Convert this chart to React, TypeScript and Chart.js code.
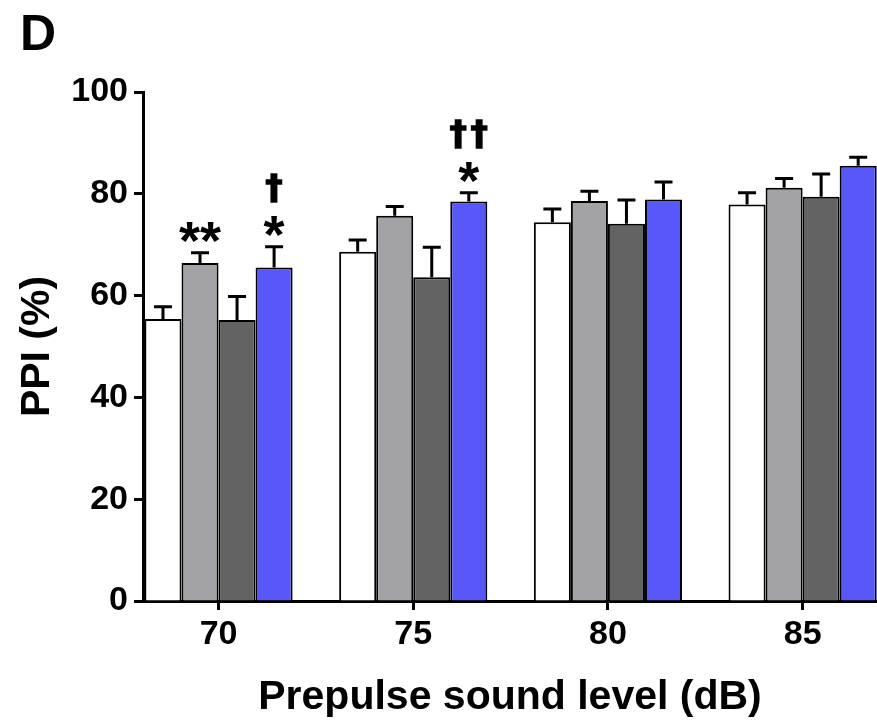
import React, { useEffect, useRef } from 'react';
import { Chart, registerables } from 'chart.js';

Chart.register(...registerables);

// ---- data ----
const levels = [70, 75, 80, 85];
const seriesNames = ['Group 1', 'Group 2', 'Group 3', 'Group 4'];
const whiteMeans = [55.4, 68.6, 74.4, 77.9];
const whiteErr = [2.4, 2.3, 2.6, 2.3];
const grayMeans = [66.4, 75.7, 78.6, 81.2];
const grayErr = [2.0, 1.8, 1.9, 1.8];
const darkMeans = [55.2, 63.6, 74.1, 79.4];
const darkErr = [4.6, 5.9, 4.7, 4.5];
const blueMeans = [65.5, 78.5, 78.9, 85.5];
const blueErr = [4.1, 1.7, 3.4, 1.7];
const yTicks = [0, 20, 40, 60, 80, 100];
// significance marks: series index, level, lines from bottom to top
const marks = [
  { series: 1, level: 70, lines: ['**'] },
  { series: 3, level: 70, lines: ['*', '†'] },
  { series: 3, level: 75, lines: ['*', '††'] },
];

const allMeans = [whiteMeans, grayMeans, darkMeans, blueMeans];
const allErr = [whiteErr, grayErr, darkErr, blueErr];
const fills = ['#FFFFFF', '#A3A2A7', '#636363', '#5757FA'];
const FONT = "'Liberation Sans', Arial, Helvetica, sans-serif";

const errorBarPlugin = {
  id: 'errorBars',
  afterDatasetsDraw(chart: any) {
    const ctx = chart.ctx;
    const y = chart.scales.y;
    ctx.save();
    ctx.strokeStyle = '#000';
    ctx.lineWidth = 3;
    chart.data.datasets.forEach((ds: any, di: number) => {
      const meta = chart.getDatasetMeta(di);
      meta.data.forEach((bar: any, i: number) => {
        const m = allMeans[di][i];
        const e = allErr[di][i];
        const x = bar.x;
        const yb = y.getPixelForValue(m);
        const yt = y.getPixelForValue(m + e);
        ctx.beginPath();
        ctx.moveTo(x, yb);
        ctx.lineTo(x, yt);
        ctx.moveTo(x - 9, yt);
        ctx.lineTo(x + 9, yt);
        ctx.stroke();
      });
    });
    // significance marks
    ctx.fillStyle = '#000';
    ctx.strokeStyle = '#000';
    ctx.textAlign = 'center';
    ctx.textBaseline = 'alphabetic';
    marks.forEach((mk) => {
      const i = levels.indexOf(mk.level);
      const meta = chart.getDatasetMeta(mk.series);
      const bar: any = meta.data[i];
      const top = y.getPixelForValue(allMeans[mk.series][i] + allErr[mk.series][i]);
      let bottom = top - 10;
      mk.lines.forEach((txt) => {
        const isStar = txt.indexOf('*') >= 0;
        ctx.font = isStar ? `bold 54px ${FONT}` : `bold 34px 'DejaVu Sans', ${FONT}`;
        (ctx as any).letterSpacing = isStar ? '0px' : '4px';
        const mt = ctx.measureText(txt);
        const desc = mt.actualBoundingBoxDescent;
        const asc = mt.actualBoundingBoxAscent;
        const base = bottom - desc;
        const xx = isStar ? bar.x : bar.x + 2;
        ctx.fillText(txt, xx, base);
        if (!isStar) {
          ctx.lineWidth = 1.5;
          ctx.strokeText(txt, xx, base);
        }
        bottom = base - asc - 14;
      });
    });
    (ctx as any).letterSpacing = '0px';
    ctx.restore();
  },
};

const panelLabelPlugin = {
  id: 'panelLabel',
  afterDraw(chart: any) {
    const ctx = chart.ctx;
    ctx.save();
    ctx.fillStyle = '#000';
    ctx.font = `bold 50px ${FONT}`;
    ctx.textAlign = 'left';
    ctx.textBaseline = 'alphabetic';
    ctx.fillText('D', 20, 50);
    ctx.restore();
  },
};

export default function App() {
  const ref = useRef<HTMLCanvasElement | null>(null);
  useEffect(() => {
    if (!ref.current) return;
    const chart = new Chart(ref.current, {
      type: 'bar',
      data: {
        datasets: allMeans.map((means, di) => ({
          label: seriesNames[di],
          data: levels.map((lv, i) => ({ x: lv, y: means[i] })),
          backgroundColor: fills[di],
          borderColor: '#000',
          borderWidth: 2,
          borderSkipped: 'start',
          categoryPercentage: 0.761,
          barPercentage: 1,
        })),
      },
      options: {
        responsive: false,
        animation: false,
        layout: { padding: { top: 92, left: 0, right: 0, bottom: 0 } },
        plugins: {
          legend: { display: false },
          tooltip: { enabled: false },
          title: { display: false },
        },
        scales: {
          x: {
            type: 'linear',
            min: 68.06,
            max: 86.91,
            offset: false,
            afterBuildTicks: (s: any) => {
              s.ticks = levels.map((v) => ({ value: v }));
            },
            afterFit: (s: any) => {
              s.height = 123;
            },
            ticks: {
              color: '#000',
              font: { family: FONT, size: 34, weight: 'bold' },
              padding: 4,
              maxRotation: 0,
              autoSkip: false,
              callback: (v: any) => String(v),
            },
            grid: {
              display: true,
              offset: false,
              drawOnChartArea: false,
              drawTicks: true,
              tickLength: 9,
              tickWidth: 3,
              tickColor: '#000',
            },
            border: { display: true, color: '#000', width: 3 },
            title: {
              display: true,
              text: 'Prepulse sound level (dB)',
              color: '#000',
              font: { family: FONT, size: 41, weight: 'bold' },
              padding: { top: 0, bottom: 2 },
            },
          },
          y: {
            type: 'linear',
            min: 0,
            max: 100,
            afterBuildTicks: (s: any) => {
              s.ticks = yTicks.map((v) => ({ value: v }));
            },
            afterFit: (s: any) => {
              s.width = 143;
            },
            ticks: {
              color: '#000',
              font: { family: FONT, size: 34, weight: 'bold' },
              padding: 6,
              callback: (v: any) => String(v),
            },
            grid: {
              display: true,
              drawOnChartArea: false,
              drawTicks: true,
              tickLength: 9,
              tickWidth: 3,
              tickColor: '#000',
            },
            border: { display: true, color: '#000', width: 3 },
            title: {
              display: true,
              text: 'PPI (%)',
              color: '#000',
              font: { family: FONT, size: 41, weight: 'bold' },
              padding: { top: 13, bottom: 0 },
            },
          },
        },
      },
      plugins: [errorBarPlugin, panelLabelPlugin],
    } as any);
    return () => chart.destroy();
  }, []);
  return (
    <div style={{ position: 'fixed', left: 0, top: 0, width: 877, height: 724, background: '#fff' }}>
      <canvas ref={ref} width={877} height={724} style={{ display: 'block' }} />
    </div>
  );
}
